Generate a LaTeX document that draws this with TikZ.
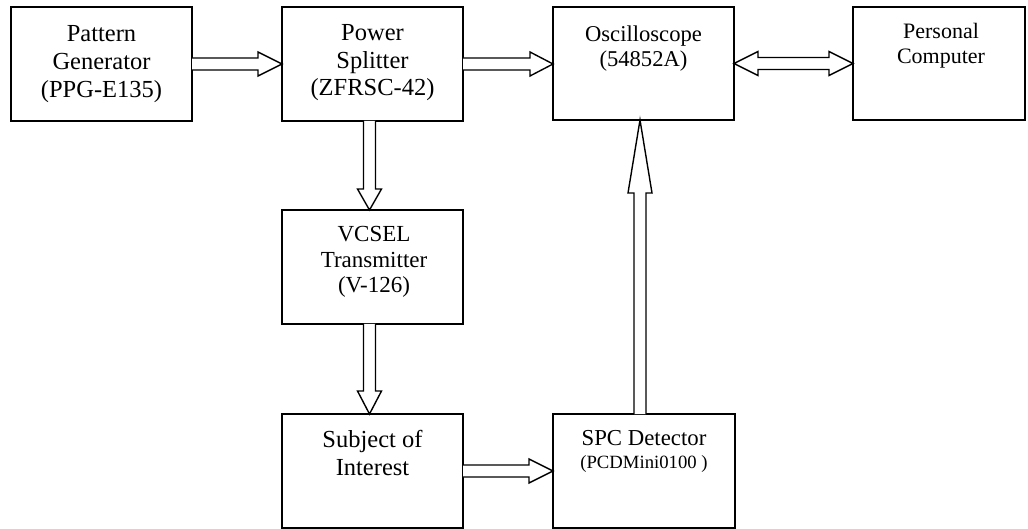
\documentclass[tikz,border=0pt]{standalone}
\usepackage{fontspec}
\setmainfont{Liberation Serif}
\usetikzlibrary{calc}

% font size / line spacing in points
\newcommand\fsz[2]{\fontsize{#1pt}{#2pt}\selectfont}
% invisible strut fixing the height of a first line
\newcommand\fl{\rule{0pt}{0.7em}}

\newcommand\shaftw{6pt}
\newcommand\headw{12pt}

% hollow block arrow: #1 start, #2 tip, #3 head length
\newcommand\hollowarrow[3]{%
  \coordinate (hb) at ($(#2)!#3!(#1)$);
  \draw[flow] ($(#1)!\shaftw!90:(#2)$) -- ($(hb)!\shaftw!-90:(#1)$)
    -- ($(hb)!\headw!-90:(#1)$) -- (#2) -- ($(hb)!\headw!90:(#1)$)
    -- ($(hb)!\shaftw!90:(#1)$) -- ($(#1)!\shaftw!-90:(#2)$);
}
% hollow double-headed block arrow: #1 tip, #2 tip, #3 head length
\newcommand\hollowdarrow[3]{%
  \coordinate (ha) at ($(#1)!#3!(#2)$);
  \coordinate (hb) at ($(#2)!#3!(#1)$);
  \draw[flow] (#1) -- ($(ha)!\headw!90:(#2)$) -- ($(ha)!\shaftw!90:(#2)$)
    -- ($(hb)!\shaftw!-90:(#1)$) -- ($(hb)!\headw!-90:(#1)$) -- (#2)
    -- ($(hb)!\headw!90:(#1)$) -- ($(hb)!\shaftw!90:(#1)$)
    -- ($(ha)!\shaftw!-90:(#2)$) -- ($(ha)!\headw!-90:(#2)$) -- cycle;
}

\begin{document}
\begin{tikzpicture}[x=1pt,y=-1pt,
  box/.style={draw, line width=1.8pt, inner sep=0pt, outer sep=0pt},
  flow/.style={draw, fill=white, line width=1.4pt, line join=miter},
  lbl/.style={anchor=north, align=center, inner sep=0pt}]
\useasboundingbox (0,0) rectangle (1028,529);

% blocks
\node[box, minimum width=181pt, minimum height=114pt] (pg)    at (101.5,64) {};
\node[box, minimum width=181pt, minimum height=114pt] (ps)    at (372.5,64) {};
\node[box, minimum width=181pt, minimum height=113pt] (osc)   at (643.5,63.5) {};
\node[box, minimum width=172pt, minimum height=113pt] (pc)    at (939,63.5) {};
\node[box, minimum width=181pt, minimum height=114pt] (vcsel) at (372.5,267) {};
\node[box, minimum width=181pt, minimum height=114pt] (sub)   at (372.5,471) {};
\node[box, minimum width=182pt, minimum height=114pt] (spc)   at (644,471) {};

% block texts
\node[lbl, font=\fsz{24.5}{28}]   (pgt)    at (101.5,23.85) {\fl Pattern\\Generator\\(PPG-E135)};
\node[lbl, font=\fsz{24.5}{27.5}] (pst)    at (372.5,23.55) {\fl Power\\Splitter\\(ZFRSC-42)};
\node[lbl, font=\fsz{22.6}{25}]   (osct)   at (643.5,25.9)  {\fl Oscilloscope\\(54852A)};
\node[lbl, font=\fsz{22}{25}]     (pct)    at (941,22.9)    {\fl Personal\\Computer};
\node[lbl, font=\fsz{23}{25.5}]   (vcselt) at (374,225.6)   {\fl VCSEL\\Transmitter\\(V-126)};
\node[lbl, font=\fsz{24.5}{28.3}] (subt)   at (372.5,429.6) {\fl Subject of\\Interest};
\node[lbl, font=\fsz{22.8}{25}]   (spct)   at (644,429.0)   {\fl SPC Detector};
\node[lbl, font=\fsz{18.7}{22}]   (spcm)   at (644,454.9)   {\fl (PCDMini0100 )};

% connector end points
\coordinate (c1s) at ($(ps.south)+(-3,0)$);
\coordinate (c1e) at (c1s |- vcsel.north);
\coordinate (c2s) at (c1s |- vcsel.south);
\coordinate (c2e) at (c1s |- sub.north);
\coordinate (c3s) at ($(spc.north)+(-4,0)$);
\coordinate (c3e) at (c3s |- osc.south);
\coordinate (c4e) at (osc.west |- ps.east);

% connectors
\hollowarrow{pg.east}{ps.west}{24pt}
\hollowarrow{ps.east}{c4e}{23pt}
\hollowdarrow{osc.east}{pc.west}{24pt}
\hollowarrow{c1s}{c1e}{21pt}
\hollowarrow{c2s}{c2e}{23pt}
\hollowarrow{sub.east}{spc.west}{24pt}
\hollowarrow{c3s}{c3e}{73pt}
\end{tikzpicture}
\end{document}
